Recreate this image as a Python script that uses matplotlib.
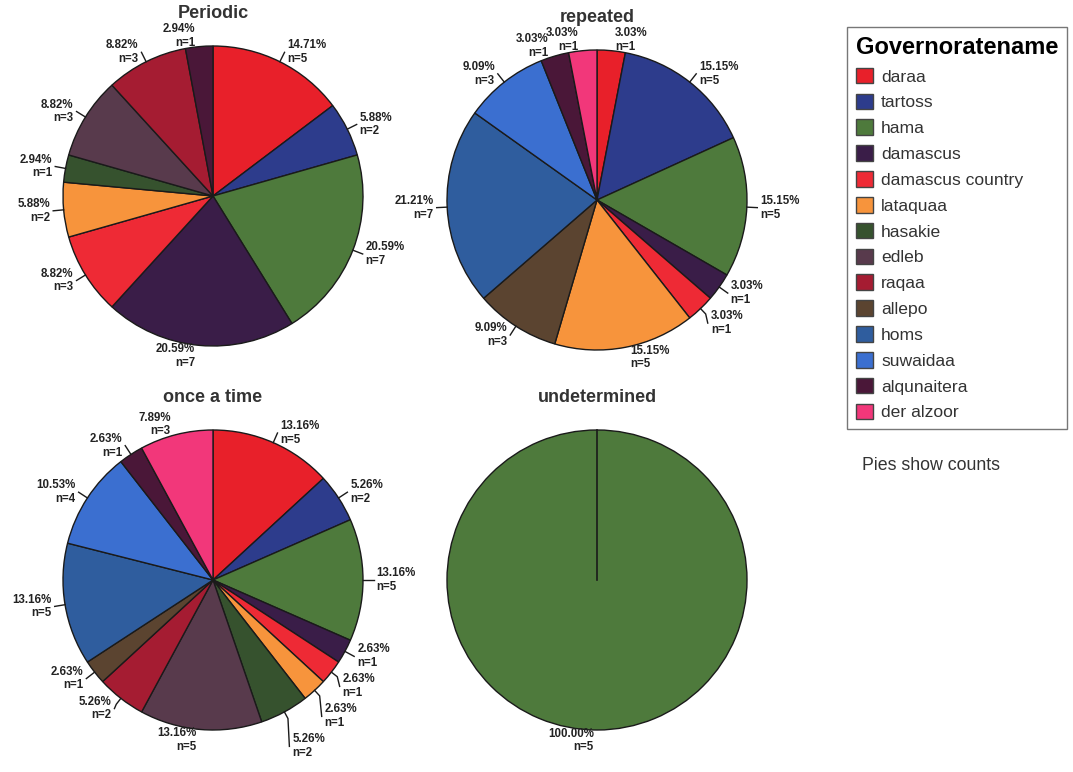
import numpy as np
import matplotlib.pyplot as plt
from matplotlib.patches import Patch

plt.rcParams['font.family'] = ['Liberation Sans', 'DejaVu Sans']

governorates = ['daraa', 'tartoss', 'hama', 'damascus', 'damascus country',
                'lataquaa', 'hasakie', 'edleb', 'raqaa', 'allepo', 'homs',
                'suwaidaa', 'alqunaitera', 'der alzoor']
colours = ['#e8202a', '#2d3c8c', '#4e7a3c', '#3a1d48', '#ee2a35',
           '#f7943c', '#36522e', '#583a4c', '#a51c32', '#5b4430', '#2f5d9e',
           '#3b6fd0', '#4a1738', '#f2377a']

# counts per governorate, same order as above
periodic = [5, 2, 7, 7, 3, 2, 1, 3, 3, 0, 0, 0, 1, 0]
repeated = [1, 5, 5, 1, 1, 5, 0, 0, 0, 3, 7, 3, 1, 1]
once_a_time = [5, 2, 5, 1, 1, 1, 2, 5, 2, 1, 5, 4, 1, 3]
undetermined = [0, 0, 5, 0, 0, 0, 0, 0, 0, 0, 0, 0, 0, 0]

titles = ['Periodic', 'repeated', 'once a time', 'undetermined']

W, H = 1073, 772
R = 150      # pie radius in pixels
LIM = 1.4
GAP = 0.2    # min vertical distance between side labels (data units)

fig = plt.figure(figsize=(W / 100, H / 100), dpi=100)


def add_pie(cx, cy, counts, title):
    size = 2 * LIM * R
    ax = fig.add_axes([(cx - size / 2) / W, 1 - (cy + size / 2) / H, size / W, size / H])
    keep = [i for i, c in enumerate(counts) if c > 0]
    vals = [counts[i] for i in keep]
    wedges, _ = ax.pie(vals, colors=[colours[i] for i in keep], startangle=90,
                       counterclock=False, radius=1,
                       wedgeprops=dict(edgecolor='#1a1a1a', linewidth=1))
    ax.set_xlim(-LIM, LIM)
    ax.set_ylim(-LIM, LIM)
    ax.set_aspect('equal')
    ax.axis('off')
    ax.patch.set_alpha(0)

    total = sum(vals)
    if len(vals) == 1:
        # full circle has no radial edge, draw the start line
        t = np.deg2rad(wedges[0].theta1)
        ax.plot([0, np.cos(t)], [0, np.sin(t)], color='#1a1a1a', lw=1.2)

    labels = []
    for w, v in zip(wedges, vals):
        a = np.deg2rad((w.theta1 + w.theta2) / 2)
        c, s = np.cos(a), np.sin(a)
        labels.append(dict(c=c, s=s, x=1.07 * c, y=1.07 * s, v=v))

    # spread crowded labels on each side downwards
    for side in (1, -1):
        group = [lb for lb in labels if side * lb['c'] > 0.3]
        group.sort(key=lambda lb: -lb['y'])
        for prev, cur in zip(group, group[1:]):
            if prev['y'] - cur['y'] < GAP:
                cur['y'] = prev['y'] - GAP

    for lb in labels:
        c, s = lb['c'], lb['s']
        if abs(c) > 0.3:
            ax.plot([c, 1.05 * c, lb['x']], [s, 1.05 * s, lb['y']],
                    color='#1a1a1a', lw=1)
        ha = 'left' if c > 1e-9 else 'right'
        ax.text(lb['x'] + (0.02 if ha == 'left' else -0.02), lb['y'],
                f"{100 * lb['v'] / total:.2f}%\nn={lb['v']}",
                ha=ha, va='center', fontsize=8.3, fontweight='bold',
                color='#222222', linespacing=1.2)
    ax.text(0, 1.22, title, ha='center', va='center', fontsize=13,
            fontweight='bold', color='#333333')


add_pie(213, 196, periodic, titles[0])
add_pie(597, 200, repeated, titles[1])
add_pie(213, 580, once_a_time, titles[2])
add_pie(597, 580, undetermined, titles[3])

handles = [Patch(facecolor=c, edgecolor='#444444') for c in colours]
fig.legend(handles, governorates, loc='upper left',
           bbox_to_anchor=(847 / W, 1 - 27 / H), title='Governoratename',
           title_fontproperties={'weight': 'bold', 'size': 17.0},
           fontsize=12.6, frameon=True, fancybox=False, edgecolor='#555555',
           alignment='left', handlelength=1.0, handleheight=1.0,
           handletextpad=0.45, labelspacing=0.515, borderpad=0.5,
           borderaxespad=0, labelcolor='#333333')

fig.text(862 / W, 1 - 465 / H, 'Pies show counts', fontsize=12.8,
         color='#333333', va='center')

fig.savefig('out.png', dpi=100, facecolor='white')
